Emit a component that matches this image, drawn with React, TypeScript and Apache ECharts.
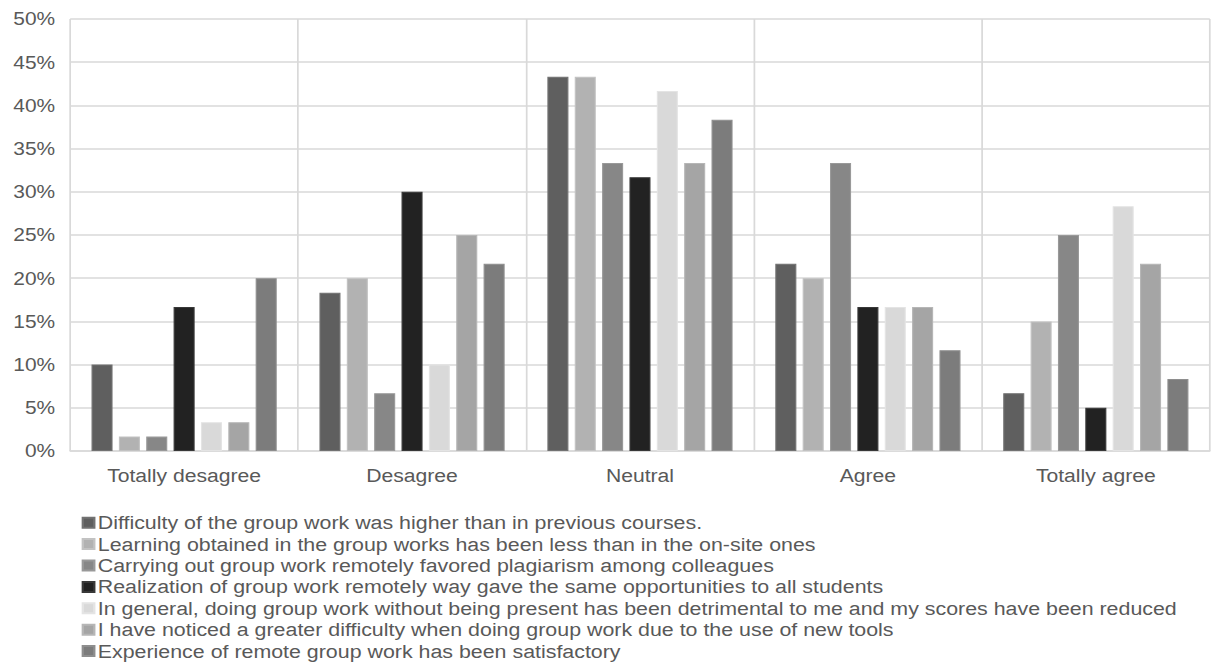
import React, { useEffect, useRef } from "react";
import * as echarts from "echarts";

const categories = ["Totally desagree", "Desagree", "Neutral", "Agree", "Totally agree"];

const seriesNames = [
  "Difficulty of the group work was higher than in previous courses.",
  "Learning obtained in the group works has been less than in the on-site ones",
  "Carrying out group work remotely favored plagiarism among colleagues",
  "Realization of group work remotely way gave the same opportunities to all students",
  "In general, doing group work without being present has been detrimental to me and my scores have been reduced",
  "I have noticed a greater difficulty when doing group work due to the use of new tools",
  "Experience of remote group work has been satisfactory",
];

const difficulty = [10, 18.33, 43.33, 21.67, 6.67];
const learning = [1.67, 20, 43.33, 20, 15];
const plagiarism = [1.67, 6.67, 33.33, 33.33, 25];
const opportunities = [16.67, 30, 31.67, 16.67, 5];
const detrimental = [3.33, 10, 41.67, 16.67, 28.33];
const newTools = [3.33, 25, 33.33, 16.67, 21.67];
const satisfactory = [20, 21.67, 38.33, 11.67, 8.33];

const seriesValues = [difficulty, learning, plagiarism, opportunities, detrimental, newTools, satisfactory];
const colors = ["#5f5f5f", "#b2b2b2", "#878787", "#222222", "#d9d9d9", "#a5a5a5", "#7c7c7c"];
const borders = ["#727272", "#c2c2c2", "#999999", "#383838", "#e4e4e4", "#b6b6b6", "#8e8e8e"];

const yTicks = [0, 5, 10, 15, 20, 25, 30, 35, 40, 45, 50];

const STRETCH = 1.15;
const W = Math.round(1211 / STRETCH);
const H = 663;

export default function App() {
  const ref = useRef<HTMLDivElement>(null);
  useEffect(() => {
    if (!ref.current) return;
    const chart = echarts.init(ref.current, null, { renderer: "svg", width: W, height: H });
    const font = "'Liberation Sans', Arial, sans-serif";
    chart.setOption({
      animation: false,
      backgroundColor: "#ffffff",
      textStyle: { fontFamily: font },
      grid: { left: 61, right: 1, top: 19, bottom: 212, containLabel: false },
      legend: {
        orient: "vertical",
        left: 71,
        top: 512,
        height: 200,
        itemWidth: 10,
        itemHeight: 10,
        itemGap: 0,
        icon: "rect",
        padding: 0,
        textStyle: { fontFamily: font, fontSize: 18.6, color: "#595959", lineHeight: 21.4, padding: [0, 0, 0, -2] },
        data: seriesNames,
      },
      xAxis: {
        type: "category",
        data: categories,
        axisLine: { show: true, lineStyle: { color: "#d9d9d9", width: 1.5 } },
        axisTick: { show: false },
        axisLabel: { fontSize: 18.4, color: "#595959", margin: 15, fontFamily: font },
        splitLine: { show: true, interval: 0, lineStyle: { color: "#d9d9d9", width: 1.5 } },
      },
      yAxis: {
        type: "value",
        min: 0,
        max: 50,
        interval: 5,
        axisLine: { show: false },
        axisTick: { show: false },
        axisLabel: {
          fontSize: 18.2,
          color: "#595959",
          margin: 13,
          fontFamily: font,
          formatter: (v: number) => (yTicks.includes(v) ? v + "%" : ""),
        },
        splitLine: { show: true, lineStyle: { color: "#d9d9d9", width: 1.5 } },
      },
      series: seriesNames.map((name, i) => ({
        name,
        type: "bar",
        data: seriesValues[i],
        barWidth: 18.3,
        barGap: "30%",
        itemStyle: { color: colors[i], borderColor: borders[i], borderWidth: 1 },
      })),
    });
    return () => chart.dispose();
  }, []);
  return (
    <div style={{ position: "fixed", left: 0, top: 0, width: 1211, height: H, overflow: "hidden", background: "#fff" }}>
      <div
        ref={ref}
        style={{ width: W, height: H, transform: `scaleX(${STRETCH})`, transformOrigin: "0 0" }}
      />
    </div>
  );
}
